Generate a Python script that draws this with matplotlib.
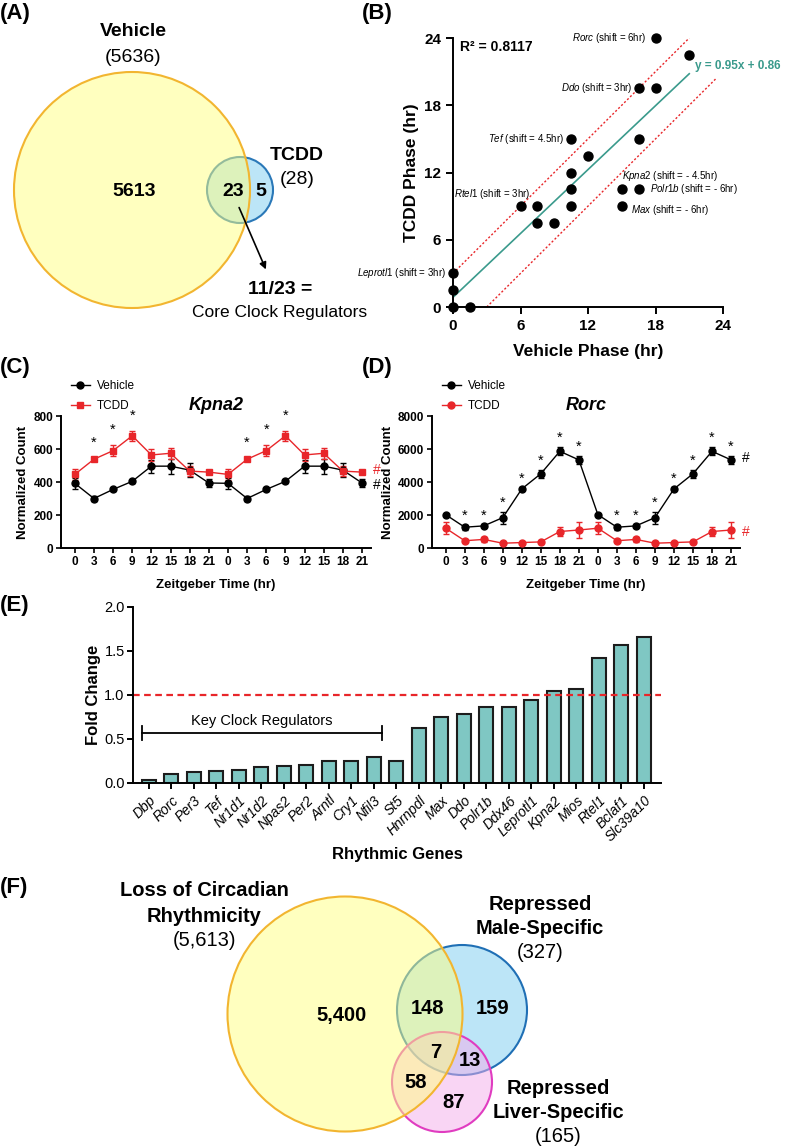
import matplotlib.pyplot as plt
import numpy as np
from matplotlib.patches import Circle

plt.rcParams['font.family'] = ['Liberation Sans', 'DejaVu Sans']
plt.rcParams['mathtext.fontset'] = 'custom'
plt.rcParams['mathtext.rm'] = 'Liberation Sans'
plt.rcParams['mathtext.it'] = 'Liberation Sans:italic'
plt.rcParams['axes.linewidth'] = 1.4

W, H = 786, 1148

# ---------------- data ----------------
# (A) venn
a_vehicle_total, a_tcdd_total = 5636, 28
a_vehicle_only, a_both, a_tcdd_only = 5613, 23, 5
a_core = '11/23'

# (B) phase scatter
vehicle_phase = [18, 21, 16.5, 18, 10.5, 16.5, 12, 10.5, 10.5, 15, 16.5,
                 6, 7.5, 10.5, 15, 7.5, 9, 0, 0, 0, 1.5]
tcdd_phase = [24, 22.5, 19.5, 19.5, 15, 15, 13.5, 12, 10.5, 10.5, 10.5,
              9, 9, 9, 9, 7.5, 7.5, 3, 1.5, 0, 0]
fit_slope, fit_icpt = 0.95, 0.86
r_squared = 0.8117
shift_band = 3
# gene, shift text, index of point
phase_genes = [('Rorc', '6hr', 0), ('Ddo', '3hr', 2), ('Tef', '4.5hr', 4),
               ('Kpna2', '- 4.5hr', 9), ('Polr1b', '- 6hr', 10),
               ('Rtel1', '3hr', 11), ('Max', '- 6hr', 14), ('Leprotl1', '3hr', 17)]

# (C) / (D) time courses (double plotted)
zt = [0, 3, 6, 9, 12, 15, 18, 21]
kpna2_veh = [392, 300, 355, 404, 496, 496, 472, 394]
kpna2_veh_err = [35, 14, 8, 8, 40, 45, 42, 24]
kpna2_tcdd = [446, 538, 590, 680, 564, 574, 466, 460]
kpna2_tcdd_err = [32, 8, 32, 30, 36, 34, 30, 8]
kpna2_star_zt = [3, 6, 9]

rorc_veh = [2020, 1260, 1340, 1840, 3580, 4500, 5860, 5340]
rorc_veh_err = [60, 160, 90, 360, 90, 240, 240, 260]
rorc_tcdd = [1200, 440, 520, 290, 330, 370, 1000, 1090]
rorc_tcdd_err = [360, 80, 160, 60, 60, 80, 260, 470]
rorc_star_zt = [3, 6, 9, 12, 15, 18, 21]

# (E) fold change
genes = ['Dbp', 'Rorc', 'Per3', 'Tef', 'Nr1d1', 'Nr1d2', 'Npas2', 'Per2', 'Arntl',
         'Cry1', 'Nfil3', 'St5', 'Hnrnpdl', 'Max', 'Ddo', 'Polr1b', 'Ddx46',
         'Leprotl1', 'Kpna2', 'Mios', 'Rtel1', 'Bclaf1', 'Slc39a10']
fold_change = [0.03, 0.10, 0.13, 0.135, 0.15, 0.185, 0.19, 0.21, 0.25, 0.255,
               0.295, 0.25, 0.625, 0.745, 0.785, 0.86, 0.868, 0.943, 1.04,
               1.068, 1.415, 1.566, 1.66]
n_key = 11

# (F) venn
f_counts = {'L': '5,400', 'LM': '148', 'M': '159', 'LMV': '7', 'MV': '13',
            'LV': '58', 'V': '87'}
f_totals = ['5,613', '327', '165']

RED = '#e8262a'
TEAL = '#3a9a8c'

fig = plt.figure(figsize=(W / 100, H / 100), dpi=100)

# overlay in pixel coordinates for venns and panel letters
ov = fig.add_axes([0, 0, 1, 1])
ov.set_xlim(0, W)
ov.set_ylim(H, 0)
ov.axis('off')


def px_axes(l, t, r, b):
    return fig.add_axes([l / W, 1 - b / H, (r - l) / W, (b - t) / H])


for lab, x, y in [('(A)', 0, 14), ('(B)', 362, 14), ('(C)', 0, 368),
                  ('(D)', 362, 368), ('(E)', 0, 606), ('(F)', 0, 887)]:
    ov.text(x, y, lab, fontsize=16, fontweight='bold', va='center', ha='left')

# ---------------- (A) ----------------
ov.add_patch(Circle((240, 190), 33, facecolor=(0.48, 0.80, 0.94, 0.5),
                    edgecolor='#2a78b8', lw=1.5))
ov.add_patch(Circle((132, 190), 118, facecolor=(1.0, 1.0, 0.5, 0.5),
                    edgecolor='#f2b530', lw=1.5))
ov.text(133, 32, 'Vehicle', fontsize=14, fontweight='bold', ha='center', va='center')
ov.text(133, 57, f'({a_vehicle_total})', fontsize=14, ha='center', va='center')
ov.text(297, 155, 'TCDD', fontsize=14, fontweight='bold', ha='center', va='center')
ov.text(297, 180, f'({a_tcdd_total})', fontsize=14, ha='center', va='center')
ov.text(134, 192, str(a_vehicle_only), fontsize=14, fontweight='bold', ha='center', va='center')
ov.text(233, 192, str(a_both), fontsize=14, fontweight='bold', ha='center', va='center')
ov.text(261, 192, str(a_tcdd_only), fontsize=14, fontweight='bold', ha='center', va='center')
ov.annotate('', xy=(267, 272), xytext=(238, 205),
            arrowprops=dict(arrowstyle='-|>', color='k', lw=1.2, mutation_scale=10))
ov.text(280, 290, f'{a_core} =', fontsize=14, fontweight='bold', ha='center', va='center')
ov.text(280, 313, 'Core Clock Regulators', fontsize=12.5, ha='center', va='center')

# ---------------- (B) ----------------
axB = px_axes(453, 38, 723, 307)
vp = np.array(vehicle_phase)
tp = np.array(tcdd_phase)
axB.scatter(vp, tp, s=42, color='k', zorder=4, clip_on=False)
xf = np.array([0, vp.max()])
axB.plot(xf, fit_slope * xf + fit_icpt, color=TEAL, lw=1.2)
xu = np.array([0, 24 - shift_band])
axB.plot(xu, xu + shift_band, color=RED, lw=1, ls=(0, (1.5, 1.5)))
xl = np.array([shift_band, 23.4])
axB.plot(xl, xl - shift_band, color=RED, lw=1, ls=(0, (1.5, 1.5)))
axB.set_xlim(0, 24)
axB.set_ylim(0, 24)
axB.set_xticks([0, 6, 12, 18, 24])
axB.set_yticks([0, 6, 12, 18, 24])
for s in ['top', 'right']:
    axB.spines[s].set_visible(False)
axB.tick_params(width=1.4, length=5, labelsize=11)
for t in axB.get_xticklabels() + axB.get_yticklabels():
    t.set_fontweight('bold')
axB.set_xlabel('Vehicle Phase (hr)', fontsize=12.5, fontweight='bold', labelpad=8)
axB.set_ylabel('TCDD Phase (hr)', fontsize=12.5, fontweight='bold', labelpad=4)
axB.text(0.6, 23.2, f'R² = {r_squared}', fontsize=10, fontweight='bold', va='center')
axB.text(21.5, 21.5, f'y = {fit_slope}x + {fit_icpt}', fontsize=8.5, fontweight='bold',
         color=TEAL, va='center', ha='left', clip_on=False)
offsets = {'Rorc': (-6.5, 0, 'right'), 'Ddo': (-4, 0, 'right'), 'Tef': (-5, 0, 'right'),
           'Kpna2': (0, 9.5, 'left'), 'Polr1b': (8, 0, 'left'), 'Rtel1': (7, 9, 'right'),
           'Max': (6.5, -2.5, 'left'), 'Leprotl1': (-5, 0, 'right')}
for g, sh, i in phase_genes:
    dx, dy, ha = offsets[g]
    axB.annotate(r'$\it{' + g + '}$' + f' (shift = {sh})', (vp[i], tp[i]),
                 xytext=(dx, dy), textcoords='offset points', fontsize=7,
                 ha=ha, va='center', annotation_clip=False)


# ---------------- (C) / (D) ----------------
def time_course(ax, veh, veh_err, tcdd, tcdd_err, star_zt, star_on, title, ymax,
                ystep, star_pad, tmarker):
    x = np.arange(len(zt) * 2)
    veh2, vehe2 = np.array(veh * 2), np.array(veh_err * 2)
    tc2, tce2 = np.array(tcdd * 2), np.array(tcdd_err * 2)
    ax.errorbar(x, veh2, yerr=vehe2, fmt='none', ecolor='k', elinewidth=1,
                capsize=2.5, capthick=1, zorder=2)
    ax.errorbar(x, tc2, yerr=tce2, fmt='none', ecolor=RED, elinewidth=1,
                capsize=2.5, capthick=1, zorder=2)
    ax.plot(x, veh2, color='k', marker='o', ms=5, lw=1, label='Vehicle', zorder=3)
    ax.plot(x, tc2, color=RED, marker=tmarker, ms=5, lw=1, label='TCDD', zorder=3)
    base, err = (tc2, tce2) if star_on == 'tcdd' else (veh2, vehe2)
    for i in x:
        if zt[i % len(zt)] in star_zt:
            ax.annotate('*', (i, base[i] + err[i]), xytext=(0, star_pad),
                        textcoords='offset points', ha='center', va='bottom',
                        fontsize=10.5, annotation_clip=False)
    # end-of-series markers, nudged apart when close
    up = 1.5 if tc2[-1] >= veh2[-1] else -1.5
    ax.annotate('#', (x[-1], tc2[-1]), xytext=(8, up), textcoords='offset points',
                color=RED, fontsize=10, va='center', ha='left', annotation_clip=False)
    ax.annotate('#', (x[-1], veh2[-1]), xytext=(8, -up), textcoords='offset points',
                color='k', fontsize=10, va='center', ha='left', annotation_clip=False)
    ax.set_xlim(-0.72, 15.47)
    ax.set_ylim(0, ymax)
    ax.set_yticks(np.arange(0, ymax + 1, ystep))
    ax.set_xticks(x)
    ax.set_xticklabels(zt * 2)
    for s in ['top', 'right']:
        ax.spines[s].set_visible(False)
    ax.tick_params(width=1.2, length=3.5, labelsize=8.5, pad=2)
    for t in ax.get_xticklabels() + ax.get_yticklabels():
        t.set_fontweight('bold')
    ax.set_xlabel('Zeitgeber Time (hr)', fontsize=9.5, fontweight='bold', labelpad=8)
    ax.set_ylabel('Normalized Count', fontsize=9.5, fontweight='bold', labelpad=3)
    ax.set_title(title, fontsize=13, fontweight='bold', style='italic', pad=4)
    ax.legend(loc='lower left', bbox_to_anchor=(0.02, 1.0), frameon=False,
              fontsize=8.5, handlelength=1.6, borderaxespad=0.3, borderpad=0,
              labelspacing=0.7, handletextpad=0.6)


axC = px_axes(61, 416, 371, 548)
time_course(axC, kpna2_veh, kpna2_veh_err, kpna2_tcdd, kpna2_tcdd_err,
            kpna2_star_zt, 'tcdd', 'Kpna2', 800, 200, 6, 's')
axD = px_axes(432, 416, 740, 548)
time_course(axD, rorc_veh, rorc_veh_err, rorc_tcdd, rorc_tcdd_err,
            rorc_star_zt, 'veh', 'Rorc', 8000, 2000, 1.5, 'o')

# ---------------- (E) ----------------
axE = px_axes(133, 607, 661, 783)
xe = np.arange(len(genes))
axE.bar(xe, fold_change, width=0.62, color='#7fc7c3', edgecolor='#1c1c1c', lw=1.5)
axE.axhline(1.0, color=RED, lw=1.6, ls=(0, (3, 2)))
axE.set_xlim(-0.71, 22.76)
axE.set_ylim(0, 2.0)
axE.set_yticks([0, 0.5, 1.0, 1.5, 2.0])
axE.set_yticklabels(['0.0', '0.5', '1.0', '1.5', '2.0'])
axE.set_xticks(xe)
axE.set_xticklabels(genes, rotation=45, ha='right', rotation_mode='anchor',
                    style='italic', fontsize=10)
for s in ['top', 'right']:
    axE.spines[s].set_visible(False)
axE.tick_params(width=1.4, length=4)
axE.tick_params(axis='y', labelsize=10.5, pad=2)
axE.set_ylabel('Fold Change', fontsize=12, fontweight='bold', labelpad=2)
axE.set_xlabel('Rhythmic Genes', fontsize=12, fontweight='bold', labelpad=2)
bx0, bx1, by = -0.3, n_key - 1 + 0.36, 0.57
axE.plot([bx0, bx1], [by, by], color='k', lw=1.3)
axE.plot([bx0, bx0], [by - 0.08, by + 0.08], color='k', lw=1.3)
axE.plot([bx1, bx1], [by - 0.08, by + 0.08], color='k', lw=1.3)
axE.text((bx0 + bx1) / 2, by + 0.05, 'Key Clock Regulators', fontsize=10.5,
         ha='center', va='bottom')

# ---------------- (F) ----------------
ov.add_patch(Circle((462, 1010), 65, facecolor=(0.48, 0.80, 0.94, 0.5),
                    edgecolor='#1f6fb5', lw=1.5))
ov.add_patch(Circle((442, 1082), 50, facecolor=(0.96, 0.68, 0.92, 0.5),
                    edgecolor='#e03cc0', lw=1.5))
ov.add_patch(Circle((345, 1014), 117.5, facecolor=(1.0, 1.0, 0.5, 0.5),
                    edgecolor='#f2b530', lw=1.5))
ov.text(204, 891, 'Loss of Circadian', fontsize=14.5, fontweight='bold', ha='center', va='center')
ov.text(204, 916, 'Rhythmicity', fontsize=14.5, fontweight='bold', ha='center', va='center')
ov.text(204, 940, f'({f_totals[0]})', fontsize=14.5, ha='center', va='center')
ov.text(540, 905, 'Repressed', fontsize=14.5, fontweight='bold', ha='center', va='center')
ov.text(540, 929, 'Male-Specific', fontsize=14.5, fontweight='bold', ha='center', va='center')
ov.text(540, 953, f'({f_totals[1]})', fontsize=14.5, ha='center', va='center')
ov.text(558, 1088, 'Repressed', fontsize=14.5, fontweight='bold', ha='center', va='center')
ov.text(558, 1112, 'Liver-Specific', fontsize=14.5, fontweight='bold', ha='center', va='center')
ov.text(558, 1137, f'({f_totals[2]})', fontsize=14.5, ha='center', va='center')
for key, (x, y) in {'L': (342, 1016), 'LM': (428, 1008), 'M': (493, 1008),
                    'LMV': (436, 1052), 'MV': (470, 1060), 'LV': (416, 1082),
                    'V': (454, 1102)}.items():
    ov.text(x, y, f_counts[key], fontsize=14.5, fontweight='bold', ha='center', va='center')

fig.savefig('out.png', dpi=100)
